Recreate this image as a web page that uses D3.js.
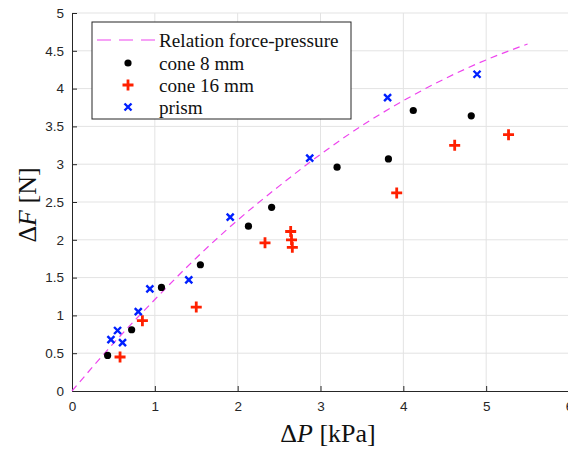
<!DOCTYPE html>
<html>
<head>
<meta charset="utf-8">
<script src="https://cdn.jsdelivr.net/npm/d3@7"></script>
<style>
  html, body { margin: 0; padding: 0; background: #fff; }
  svg { display: block; }
  .tick text { font-family: "Liberation Sans", Arial, sans-serif; font-size: 13.5px; fill: #262626; }
</style>
</head>
<body>
<div id="chart"></div>
<script>
/* Force change vs pressure change — scatter with fitted relation (dashed). */

var xTicks = [0, 1, 2, 3, 4, 5, 6];
var yTicks = [0, 0.5, 1, 1.5, 2, 2.5, 3, 3.5, 4, 4.5, 5];

// relation force-pressure
var relP = [0, 0.5, 1, 1.5, 2, 2.5, 3, 3.5, 4, 4.5, 5, 5.5];
var relF = [0, 0.63, 1.21, 1.76, 2.26, 2.71, 3.13, 3.51, 3.84, 4.13, 4.38, 4.59];

var cone8P = [0.43, 0.72, 1.08, 1.55, 2.13, 2.41, 3.20, 3.82, 4.12, 4.82];
var cone8F = [0.47, 0.81, 1.37, 1.67, 2.18, 2.43, 2.96, 3.07, 3.71, 3.64];

var cone16P = [0.58, 0.85, 1.50, 2.33, 2.64, 2.65, 2.66, 3.92, 4.62, 5.27];
var cone16F = [0.45, 0.93, 1.11, 1.96, 2.11, 2.00, 1.90, 2.62, 3.25, 3.39];

var prismP = [0.47, 0.55, 0.61, 0.80, 0.94, 1.41, 1.91, 2.87, 3.81, 4.89];
var prismF = [0.68, 0.80, 0.64, 1.05, 1.35, 1.47, 2.30, 3.08, 3.88, 4.19];

var legendLabels = ["Relation force-pressure", "cone 8 mm", "cone 16 mm", "prism"];

function zip(a, b) { return a.map(function (v, i) { return [v, b[i]]; }); }

(function render() {
  var d3 = window.d3;
  var width = 568, height = 450;
  var margin = { top: 13, right: -1, bottom: 59, left: 72 };
  var innerW = width - margin.left - margin.right;
  var innerH = height - margin.top - margin.bottom;

  var svg = d3.select("#chart").append("svg")
    .attr("width", width).attr("height", height);
  var g = svg.append("g").attr("transform", "translate(" + margin.left + "," + margin.top + ")");

  var x = d3.scaleLinear().domain([0, 6]).range([0, innerW]);
  var y = d3.scaleLinear().domain([0, 5]).range([innerH, 0]);

  // grid
  g.append("g").selectAll("line").data(xTicks.slice(1)).enter().append("line")
    .attr("x1", x).attr("x2", x).attr("y1", 0).attr("y2", innerH)
    .attr("stroke", "#e3e3e3").attr("stroke-width", 1);
  g.append("g").selectAll("line").data(yTicks.slice(1)).enter().append("line")
    .attr("x1", 0).attr("x2", innerW).attr("y1", y).attr("y2", y)
    .attr("stroke", "#e3e3e3").attr("stroke-width", 1);

  // axes, ticks pointing inward
  var fmt = function (v) { return String(v); };
  var ax = g.append("g").attr("transform", "translate(0," + innerH + ")")
    .call(d3.axisBottom(x).tickValues(xTicks).tickSize(-5).tickPadding(10).tickSizeOuter(0).tickFormat(fmt));
  var ay = g.append("g")
    .call(d3.axisLeft(y).tickValues(yTicks).tickSize(-5).tickPadding(8).tickSizeOuter(0).tickFormat(fmt));
  [ax, ay].forEach(function (a) {
    a.select(".domain").attr("stroke", "#262626");
    a.selectAll(".tick line").attr("stroke", "#262626");
  });

  // relation curve
  var line = d3.line()
    .x(function (d) { return x(d[0]); })
    .y(function (d) { return y(d[1]); })
    .curve(d3.curveMonotoneX);
  g.append("path").datum(zip(relP, relF))
    .attr("fill", "none").attr("stroke", "#ee44ee").attr("stroke-width", 1.2)
    .attr("stroke-dasharray", "7 5").attr("d", line);

  // markers
  function circle(sel) {
    sel.append("circle").attr("r", 3.6).attr("fill", "#000");
  }
  function plus(sel) {
    sel.append("path").attr("d", "M-5.5,0H5.5M0,-5.5V5.5")
      .attr("stroke", "#ff2000").attr("stroke-width", 2.8).attr("fill", "none");
  }
  function cross(sel) {
    sel.append("path").attr("d", "M-3.5,-3.5L3.5,3.5M-3.5,3.5L3.5,-3.5")
      .attr("stroke", "#0020ff").attr("stroke-width", 2.4).attr("fill", "none");
  }
  function pts(data, draw) {
    g.append("g").selectAll("g").data(data).enter().append("g")
      .attr("transform", function (d) { return "translate(" + x(d[0]) + "," + y(d[1]) + ")"; })
      .call(draw);
  }
  pts(zip(cone8P, cone8F), circle);
  pts(zip(cone16P, cone16F), plus);
  pts(zip(prismP, prismF), cross);

  // legend
  var serif = "'Liberation Serif', 'Times New Roman', serif";
  var lg = svg.append("g").attr("transform", "translate(92,22)");
  lg.append("rect").attr("width", 259).attr("height", 97)
    .attr("fill", "#fff").attr("stroke", "#262626").attr("stroke-width", 1);
  var rowY = [18, 41, 63, 85];
  lg.append("line").attr("x1", 5).attr("x2", 63).attr("y1", rowY[0]).attr("y2", rowY[0])
    .attr("stroke", "#ee44ee").attr("stroke-width", 1.2).attr("stroke-dasharray", "14 8");
  var mk = [null, circle, plus, cross];
  legendLabels.forEach(function (t, i) {
    if (mk[i]) lg.append("g").attr("transform", "translate(36," + rowY[i] + ")").call(mk[i]);
    lg.append("text").attr("x", 67).attr("y", rowY[i]).attr("dy", "0.35em")
      .attr("font-family", serif).attr("font-size", 19.2).attr("fill", "#111").text(t);
  });

  // axis labels
  var xl = svg.append("text").attr("x", 328).attr("y", 442)
    .attr("text-anchor", "middle").attr("font-family", serif).attr("font-size", 26).attr("fill", "#111");
  xl.append("tspan").text("Δ");
  xl.append("tspan").attr("font-style", "italic").text("P");
  xl.append("tspan").text(" [kPa]");

  var yl = svg.append("text").attr("transform", "translate(36,205) rotate(-90)")
    .attr("text-anchor", "middle").attr("font-family", serif).attr("font-size", 26).attr("fill", "#111");
  yl.append("tspan").text("Δ");
  yl.append("tspan").attr("font-style", "italic").text("F");
  yl.append("tspan").text(" [N]");
})();
</script>
</body>
</html>
